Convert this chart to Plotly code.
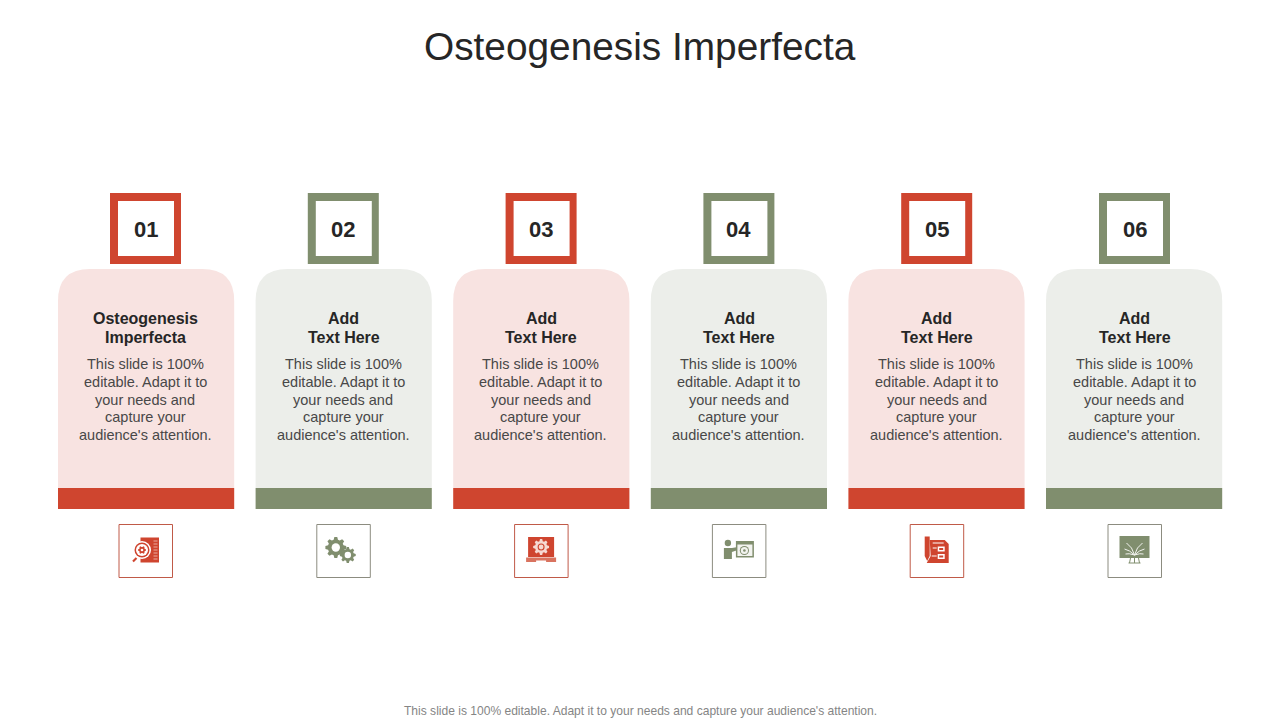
import math
import plotly.graph_objects as go

# slide content
title = "Osteogenesis Imperfecta"
footer = "This slide is 100% editable. Adapt it to your needs and capture your audience's attention."
numbers = ["01", "02", "03", "04", "05", "06"]
headings = [
    ["Osteogenesis", "Imperfecta"],
    ["Add", "Text Here"],
    ["Add", "Text Here"],
    ["Add", "Text Here"],
    ["Add", "Text Here"],
    ["Add", "Text Here"],
]
body_lines = ["This slide is 100%", "editable. Adapt it to", "your needs and", "capture your", "audience's attention."]

RED = "#CF452F"
GREEN = "#808E6E"
PINK = "#F8E3E1"
GREY = "#ECEEEA"
FONT = "Liberation Sans"

shapes = []
annotations = []


def rect(x0, y0, x1, y1, color, line=None, width=0):
    shapes.append(dict(type="rect", x0=x0, y0=y0, x1=x1, y1=y1, fillcolor=color,
                       line=dict(color=line or color, width=width)))


def circle(cx, cy, r, color):
    shapes.append(dict(type="circle", x0=cx - r, y0=cy - r, x1=cx + r, y1=cy + r,
                       fillcolor=color, line=dict(width=0)))


def path(d, color, line=None, width=0):
    shapes.append(dict(type="path", path=d, fillcolor=color, line=dict(color=line or color, width=width)))


def stroke(d, color, width=1):
    shapes.append(dict(type="path", path=d, line=dict(color=color, width=width)))


def gear(cx, cy, r, hole, color, inner, teeth=8):
    # outline alternates between tooth tip and root
    pts = []
    for t in range(teeth):
        a = 2 * math.pi * t / teeth
        w = math.pi / teeth * 0.5
        for da, rr in [(-w * 1.4, r * 0.76), (-w * 0.7, r), (w * 0.7, r), (w * 1.4, r * 0.76)]:
            pts.append((cx + rr * math.cos(a + da), cy + rr * math.sin(a + da)))
    d = "M" + " L".join(f"{x:.2f},{y:.2f}" for x, y in pts) + " Z"
    path(d, color)
    circle(cx, cy, hole, inner)


def text(x, y, s, size, color, bold=False):
    annotations.append(dict(x=x, y=y, text=f"<b>{s}</b>" if bold else s, showarrow=False,
                            xanchor="center", yanchor="middle", xref="x", yref="y",
                            font=dict(family=FONT, size=size, color=color)))


# the six small pictograms
def icon_search(cx, cy):
    rect(cx - 5, cy - 12.5, cx + 13.5, cy + 12.5, RED)
    for k in range(7):
        stroke(f"M{cx + 8},{cy - 9 + k * 3} L{cx + 12},{cy - 9 + k * 3}", "#F3C7BE", 0.8)
    circle(cx - 3.5, cy, 9, "white")
    circle(cx - 3.5, cy, 7.5, RED)
    circle(cx - 3.5, cy, 6, "white")
    gear(cx - 3.5, cy, 4, 1.3, RED, "white", 6)
    stroke(f"M{cx - 9},{cy + 8} L{cx - 12.5},{cy + 11.5}", RED, 2.2)


def icon_gears(cx, cy):
    gear(cx - 7.5, cy - 2.5, 10.5, 4.2, GREEN, "white", 8)
    gear(cx + 4.5, cy + 5, 8, 3.2, GREEN, "white", 8)


def icon_laptop(cx, cy):
    rect(cx - 13, cy - 13, cx + 13, cy + 7, RED)
    gear(cx, cy - 3, 8, 3.5, "#F6D9D2", RED, 8)
    circle(cx, cy - 3, 2.4, "#F6D9D2")
    rect(cx - 15, cy + 7.5, cx + 15, cy + 12, "#D9735F")
    rect(cx - 5, cy + 10.5, cx + 5, cy + 12, "white")


def icon_presenter(cx, cy):
    circle(cx - 11, cy - 7, 3.2, GREEN)
    path(f"M{cx - 15},{cy - 2} L{cx - 7},{cy - 2} L{cx - 1},{cy - 3} L{cx - 1},{cy} L{cx - 7},{cy + 2} "
         f"L{cx - 7},{cy + 9} L{cx - 15},{cy + 9} Z", GREEN)
    rect(cx - 3, cy - 9, cx + 15, cy + 7.5, GREEN)
    rect(cx - 1.5, cy - 5.5, cx + 13.5, cy + 6, "#F2F3EF")
    circle(cx + 5.5, cy + 0.5, 4.6, GREEN)
    circle(cx + 5.5, cy + 0.5, 3.6, "#F2F3EF")
    circle(cx + 5.5, cy + 0.5, 1.3, GREEN)


def icon_phone(cx, cy):
    rect(cx - 12, cy - 13.5, cx - 7, cy + 6, RED)
    path(f"M{cx - 12},{cy + 6} L{cx - 7},{cy + 6} L{cx - 9.5},{cy + 11} Z", RED)
    path(f"M{cx - 7},{cy - 10} L{cx + 8},{cy - 10} L{cx + 12},{cy - 6} L{cx + 12},{cy + 13} "
         f"L{cx - 10},{cy + 13} L{cx - 6},{cy + 6} Z", RED)
    stroke(f"M{cx - 4},{cy - 7} L{cx + 7},{cy - 7}", "white", 1)
    rect(cx + 1, cy - 3.5, cx + 8, cy + 1.5, "white")
    rect(cx + 2.5, cy - 2, cx + 6.5, cy, RED)
    rect(cx + 1, cy + 4, cx + 8, cy + 9, "white")
    rect(cx + 2.5, cy + 5.5, cx + 6.5, cy + 7.5, RED)
    stroke(f"M{cx - 4},{cy - 2} L{cx},{cy - 2}", "white", 1)
    stroke(f"M{cx - 5},{cy + 6} L{cx},{cy + 6}", "white", 1)


def icon_monitor(cx, cy):
    rect(cx - 15, cy - 14, cx + 15, cy + 8, GREEN)
    stroke(f"M{cx},{cy + 8} L{cx},{cy + 13}", GREEN, 1)
    stroke(f"M{cx - 6},{cy + 13} L{cx + 6},{cy + 13}", GREEN, 1)
    stroke(f"M{cx - 4},{cy + 8} L{cx - 5},{cy + 13}", GREEN, 1)
    stroke(f"M{cx + 4},{cy + 8} L{cx + 5},{cy + 13}", GREEN, 1)
    for sx in (-1, 1):
        stroke(f"M{cx},{cy + 5} Q{cx + sx * 2},{cy - 3} {cx + sx * 8},{cy - 7}", "#F2F3EF", 1)
        stroke(f"M{cx},{cy + 5} Q{cx + sx * 5},{cy} {cx + sx * 10},{cy - 1}", "#F2F3EF", 1)
        stroke(f"M{cx},{cy + 5} Q{cx + sx * 6},{cy + 3} {cx + sx * 9},{cy + 4}", "#F2F3EF", 1)


icons = [icon_search, icon_gears, icon_laptop, icon_presenter, icon_phone, icon_monitor]

# cards
for i, num in enumerate(numbers):
    left = 58 + 197.6 * i
    right = left + 176.2
    mid = 145.5 + 197.8 * i
    accent = RED if i % 2 == 0 else GREEN
    tint = PINK if i % 2 == 0 else GREY
    border = "#C05A48" if i % 2 == 0 else "#8C8C80"

    # numbered square
    rect(mid - 35.5, 193, mid + 35.5, 264, accent)
    rect(mid - 27.5, 201, mid + 28.5, 256, "white")
    text(mid, 229.5, num, 22, "#262626", bold=True)

    # panel with rounded top, accent strip below
    r = 32
    path(f"M{left},488 L{left},{269 + r} Q{left},269 {left + r},269 L{right - r},269 "
         f"Q{right},269 {right},{269 + r} L{right},488 Z", tint)
    rect(left, 488, right, 509, accent)

    for k, line in enumerate(headings[i]):
        text(mid + 0.2, 318.5 + 19 * k, line, 16, "#262626", bold=True)
    for k, line in enumerate(body_lines):
        text(mid - 0.2, 364 + 17.8 * k, line, 14.5, "#484848")

    # icon box
    rect(mid - 26.5, 524.5, mid + 27, 577.5, "white", border, 1)
    icons[i](mid, 550)

text(640, 46.5, title, 38.8, "#262626")
text(640, 711, footer, 12.05, "#858585")

fig = go.Figure()
fig.update_layout(
    width=1280, height=720,
    margin=dict(l=0, r=0, t=0, b=0),
    paper_bgcolor="white", plot_bgcolor="white",
    xaxis=dict(range=[0, 1280], visible=False, fixedrange=True),
    yaxis=dict(range=[720, 0], visible=False, fixedrange=True),
    shapes=shapes,
    annotations=annotations,
    showlegend=False,
)
fig.write_html("out.html", config={"displayModeBar": False},
               post_script="document.body.style.margin='0';")
